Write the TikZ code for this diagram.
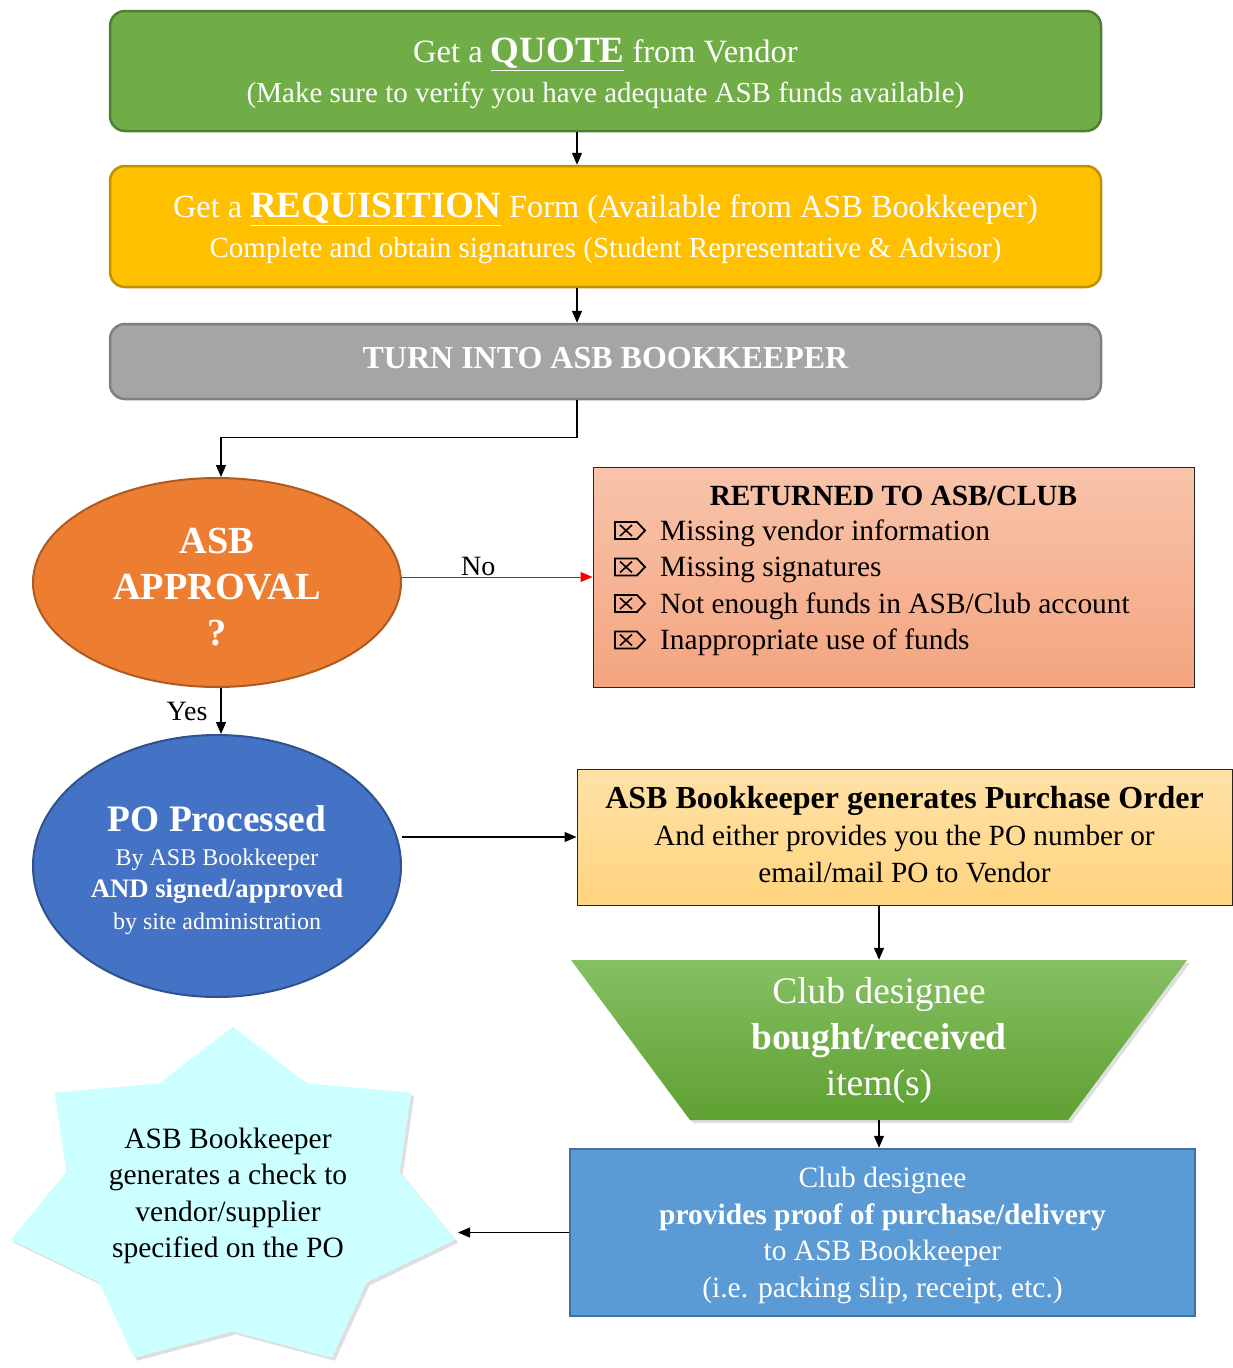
\documentclass[tikz,border=0pt]{standalone}
\usepackage{fontspec}
\setmainfont{Liberation Serif}
\usetikzlibrary{shapes.geometric,arrows.meta,shadows,calc}
\definecolor{gA}{HTML}{70AD47}
\definecolor{gAd}{HTML}{507E32}
\definecolor{yA}{HTML}{FFC000}
\definecolor{yAd}{HTML}{BF9000}
\definecolor{grA}{HTML}{A5A5A5}
\definecolor{grAd}{HTML}{7F7F7F}
\definecolor{oA}{HTML}{ED7D31}
\definecolor{oAd}{HTML}{AE5A21}
\definecolor{rA}{HTML}{F8C4AB}
\definecolor{rB}{HTML}{F4A47F}
\definecolor{bA}{HTML}{4472C4}
\definecolor{bAd}{HTML}{2F528F}
\definecolor{pA}{HTML}{FFE2A8}
\definecolor{pB}{HTML}{FFD47E}
\definecolor{tA}{HTML}{85BF63}
\definecolor{tB}{HTML}{5FA132}
\definecolor{lbA}{HTML}{5B9BD5}
\definecolor{lbAd}{HTML}{41719C}
\definecolor{cyA}{HTML}{CCFFFF}
\newcommand{\fs}[2]{\fontsize{#1}{#2}\selectfont}
\tikzset{
  rbox/.style={rectangle, rounded corners=15pt, minimum width=991pt, line width=2.5pt},
  arr/.style={-{Triangle[length=12pt,width=10pt]}, line width=1.2pt},
  oval/.style={ellipse, minimum width=368pt, inner sep=0pt, line width=2pt},
  txt/.style={align=center, inner sep=0pt},
  itemtxt/.style={anchor=base west, inner sep=0pt, font=\fs{29.4}{36}},
  xsym/.style={line width=1.8pt, line join=miter},
  softshadow/.style={drop shadow={shadow xshift=3pt, shadow yshift=-3pt, opacity=0.25}}
}
\begin{document}
\begin{tikzpicture}[x=1pt,y=-1pt]
\useasboundingbox (0,0) rectangle (1233,1368);
% top boxes
\node[rbox, fill=gA, draw=gAd, minimum height=120pt] (quote) at (605.5,71) {};
\node[txt, text=white, font=\fs{29}{39.5}] (quotetxt) at ($(quote.center)+(0,2.5)$)
  {{\fs{32.5}{39.5}Get a \underline{\fs{37}{39.5}\bfseries QUOTE} from Vendor}\\(Make sure to verify you have adequate ASB funds available)};
\node[rbox, fill=yA, draw=yAd, minimum height=121pt] (req) at (605.5,226.5) {};
\node[txt, text=white, font=\fs{29}{39.5}] (reqtxt) at ($(req.center)+(0,2)$)
  {{\fs{32.3}{39.5}Get a \underline{\fs{37}{39.5}\bfseries REQUISITION} Form (Available from ASB Bookkeeper)}\\Complete and obtain signatures (Student Representative \& Advisor)};
\node[rbox, fill=grA, draw=grAd, minimum height=75pt] (turn) at (605.5,361.5) {};
\node[txt, text=white, font=\fs{32}{38}\bfseries] (turntxt) at ($(turn.center)+(0,-3)$) {TURN INTO ASB BOOKKEEPER};
% approval
\node[oval, fill=oA, draw=oAd, minimum height=209pt] (appr) at (217,582.5) {};
\node[txt, text=white, font=\fs{38.3}{46}\bfseries] (apprtxt) at ($(appr.center)+(0,5)$) {ASB\\APPROVAL\\?};
% returned box
\node[rectangle, draw=black!85, line width=1pt, top color=rA, bottom color=rB, minimum width=601pt, minimum height=220pt] (ret) at (893.5,577) {};
\node[anchor=base, inner sep=0pt, font=\fs{29.3}{36}\bfseries] (rethead) at (893.5,505) {RETURNED TO ASB/CLUB};
\node[itemtxt] (r1) at (660,540) {Missing vendor information};
\node[itemtxt] (r2) at (660,576.5) {Missing signatures};
\node[itemtxt] (r3) at (660,613) {Not enough funds in ASB/Club account};
\node[itemtxt] (r4) at (660,649.5) {Inappropriate use of funds};
\foreach \yy in {530.5,567,603.5,640}{
  \draw[xsym] (615,\yy-8.5) -- (637,\yy-8.5) -- (645,\yy) -- (637,\yy+8.5) -- (615,\yy+8.5) -- cycle;
  \draw[line width=1.6pt] (620,\yy-5.5) -- (632,\yy+5.5) (620,\yy+5.5) -- (632,\yy-5.5);
}
% PO processed
\node[oval, fill=bA, draw=bAd, minimum height=262pt] (proc) at (217,866) {};
\node[txt, text=white, font=\fs{24}{32}] (proctxt) at ($(proc.center)+(0,4)$)
  {{\fs{37.4}{32}\bfseries PO Processed}\\[1.5pt]By ASB Bookkeeper\\{\fs{26.7}{32}\bfseries AND signed/approved}\\by site administration};
% purchase order box
\node[rectangle, draw=black!85, line width=1pt, top color=pA, bottom color=pB, minimum width=655pt, minimum height=136pt] (pord) at (904.5,837) {};
\node[txt, font=\fs{29.3}{37}] (pordtxt) at ($(pord.center)+(0,-2)$)
  {{\fs{32}{37}\bfseries ASB Bookkeeper generates Purchase Order}\\And either provides you the PO number or\\email/mail PO to Vendor};
% trapezoid
\path[top color=tA, bottom color=tB, softshadow] (571,960) -- (1187,960) -- (1068,1120) -- (690,1120) -- cycle;
\node[minimum width=616pt, minimum height=160pt, inner sep=0pt] (trap) at (879,1040) {};
\node[txt, text=white, font=\fs{37.5}{46}] (traptxt) at (trap.center)
  {Club designee\\\textbf{bought/received}\\item(s)};
% proof box
\node[rectangle, fill=lbA, draw=lbAd, line width=2.5pt, minimum width=625pt, minimum height=167pt] (proof) at (882.5,1232.5) {};
\node[txt, text=white, font=\fs{29.5}{36.5}] (prooftxt) at ($(proof.center)+(0,3)$)
  {Club designee\\\textbf{provides proof of purchase/delivery}\\to ASB Bookkeeper\\(i.e. packing slip, receipt, etc.)};
% star
\path[fill=cyA, softshadow] plot[samples at={0,...,13}, variable=\k]
  ({233+228*(1-0.25*mod(\k,2))*cos(90+25.7143*\k)}, {1201-174*(1-0.25*mod(\k,2))*sin(90+25.7143*\k)}) -- cycle;
\node[txt, font=\fs{29.5}{36.5}] (check) at (228,1196)
  {ASB Bookkeeper\\generates a check to\\vendor/supplier\\specified on the PO};
\coordinate (starR) at (458,1230);
% connectors
\draw[arr] ($(quote.south)+(-28.5,0)$) -- ($(req.north)+(-28.5,0)$);
\draw[arr] ($(req.south)+(-28.5,0)$) -- ($(turn.north)+(-28.5,0)$);
\draw[arr] ($(turn.south)+(-28.5,0)$) -- ++(0,37) -| ($(appr.north)+(4,0)$);
\draw[arr, red, line width=1pt] (appr.east |- ret.west) -- (ret.west)
  node[pos=0.4, anchor=south, inner sep=1pt, text=black, font=\fs{28}{30}] (no) {No};
\draw[arr] ($(appr.south)+(4,0)$) -- ($(proc.north)+(4,0)$)
  node[pos=0.5, anchor=east, inner sep=0pt, xshift=-13pt, font=\fs{28}{30}] (yes) {Yes};
\draw[arr] (proc.east |- pord.west) -- (pord.west);
\draw[arr] (pord.south -| trap.north) -- (trap.north);
\draw[arr] (trap.south) -- (trap.south |- proof.north);
\draw[arr] (proof.west) -- (starR |- proof.west);
\end{tikzpicture}
\end{document}
